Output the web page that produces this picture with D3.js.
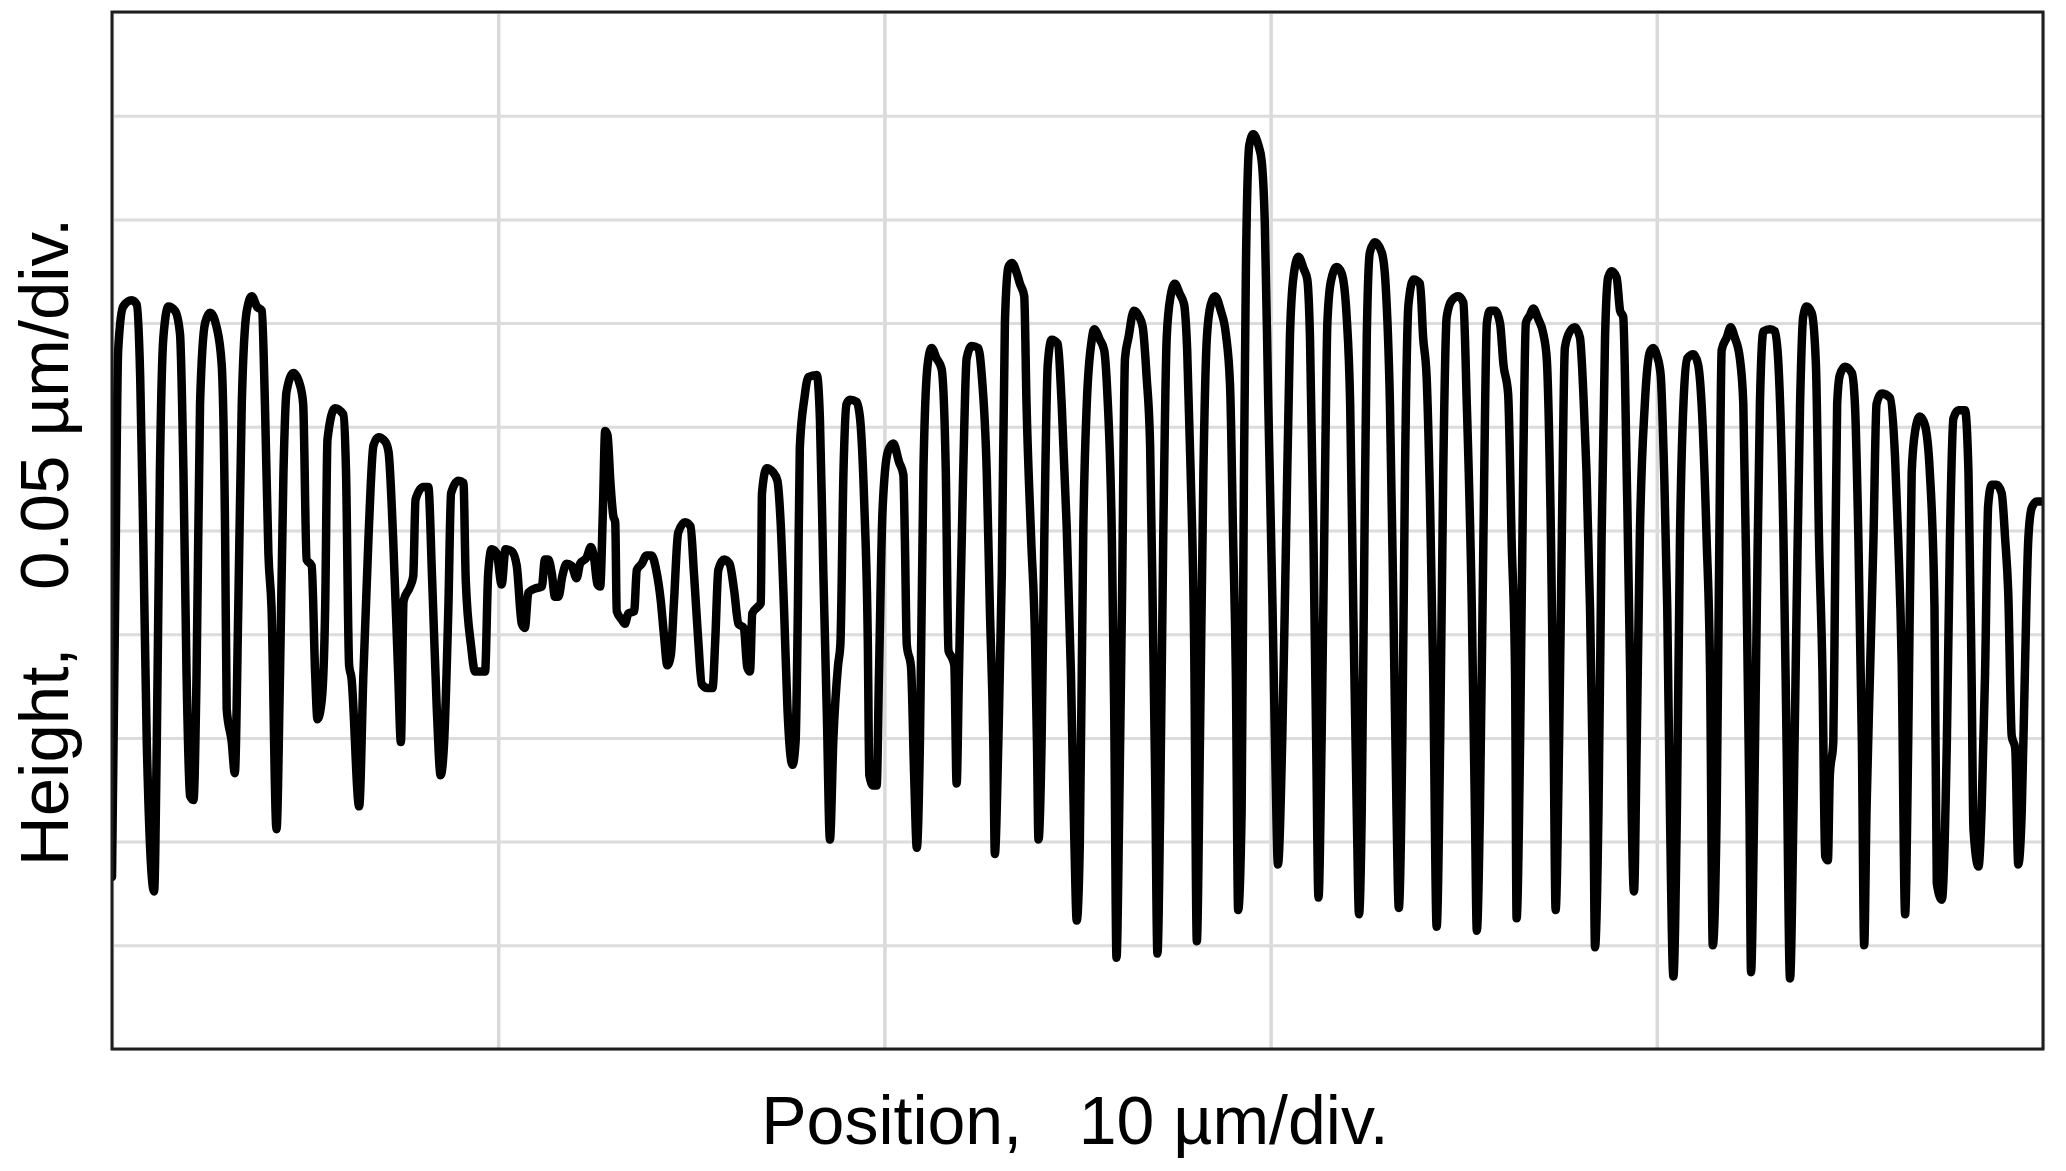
<!DOCTYPE html>
<html>
<head>
<meta charset="utf-8">
<script src="https://cdn.jsdelivr.net/npm/d3@7"></script>
<style>
  html, body { margin: 0; padding: 0; background: #ffffff; }
  svg { display: block; }
  text { font-family: "Liberation Sans", Arial, Helvetica, sans-serif; fill: #000; }
</style>
</head>
<body>
<svg id="chart" width="2066" height="1171"></svg>
<script>
// ---- Data (position in µm, height in nm) ----
const positionUm = [
0.00,0.08,0.16,0.29,0.51,0.64,0.73,0.81,0.90,1.09,1.16,1.24,1.33,1.46,1.63,1.76,1.85,1.93,2.02,2.11,
2.19,2.28,2.41,2.54,2.71,2.84,2.93,2.97,3.10,3.18,3.27,3.36,3.49,3.62,3.75,3.88,3.96,4.05,4.13,4.26,
4.35,4.44,4.52,4.70,4.87,4.95,5.04,5.17,5.26,5.32,5.43,5.52,5.58,5.77,5.99,6.06,6.14,6.20,6.40,6.51,
6.64,6.77,6.90,7.07,7.16,7.28,7.41,7.48,7.55,7.72,7.80,7.86,8.06,8.19,8.29,8.41,8.51,8.60,8.71,8.78,
8.97,9.10,9.16,9.30,9.40,9.66,9.74,9.83,9.96,10.09,10.19,10.35,10.48,10.61,10.69,10.78,10.95,11.13,11.21,11.30,
11.39,11.47,11.56,11.66,11.77,11.90,12.03,12.12,12.29,12.40,12.48,12.57,12.64,12.71,12.77,12.83,12.91,12.98,13.03,13.07,
13.20,13.28,13.37,13.52,13.59,13.72,13.84,13.97,14.09,14.21,14.29,14.38,14.47,14.55,14.66,14.84,14.98,15.07,15.18,15.27,
15.42,15.55,15.62,15.70,15.85,15.99,16.11,16.22,16.36,16.45,16.52,16.58,16.71,16.80,16.83,16.95,17.12,17.23,17.31,17.40,
17.49,17.62,17.70,17.76,17.81,17.93,18.03,18.25,18.33,18.42,18.51,18.59,18.68,18.80,18.86,18.94,19.02,19.11,19.28,19.37,
19.48,19.57,19.61,19.71,19.80,19.86,19.95,20.09,20.23,20.38,20.49,20.53,20.58,20.69,20.77,20.84,20.92,21.01,21.12,21.22,
21.35,21.48,21.59,21.66,21.74,21.81,21.87,21.93,22.04,22.13,22.26,22.43,22.52,22.65,22.73,22.82,22.86,22.95,23.04,23.12,
23.21,23.30,23.43,23.51,23.62,23.68,23.80,23.90,23.95,23.99,24.07,24.14,24.23,24.33,24.49,24.59,24.72,24.83,24.92,24.98,
25.06,25.15,25.24,25.37,25.43,25.58,25.69,25.77,25.89,25.95,26.01,26.08,26.15,26.23,26.32,26.46,26.60,26.69,26.79,26.88,
26.96,27.01,27.07,27.14,27.22,27.31,27.41,27.52,27.65,27.76,27.84,27.93,28.02,28.09,28.17,28.26,28.35,28.45,28.56,28.71,
28.84,28.95,29.03,29.10,29.16,29.25,29.31,29.36,29.45,29.55,29.68,29.77,29.85,29.94,30.05,30.13,30.19,30.30,30.40,30.50,
30.59,30.72,30.86,30.95,31.02,31.11,31.18,31.24,31.32,31.41,31.47,31.56,31.71,31.84,31.97,32.06,32.14,32.23,32.29,32.36,
32.43,32.49,32.57,32.70,32.88,32.98,33.09,33.18,33.26,33.32,33.41,33.48,33.57,33.70,33.87,33.95,34.04,34.13,34.21,34.30,
34.39,34.47,34.56,34.69,34.86,34.99,35.08,35.21,35.29,35.34,35.42,35.51,35.60,35.68,35.81,35.94,36.03,36.15,36.24,36.33,
36.37,36.46,36.54,36.61,36.72,36.80,36.93,37.06,37.15,37.26,37.33,37.38,37.47,37.54,37.62,37.75,37.88,38.01,38.11,38.18,
38.27,38.36,38.40,38.49,38.57,38.66,38.74,38.83,38.96,39.05,39.13,39.22,39.31,39.35,39.41,39.48,39.56,39.69,39.82,39.91,
40.01,40.10,40.19,40.27,40.34,40.43,40.52,40.60,40.69,40.79,40.95,41.07,41.16,41.29,41.38,41.45,41.55,41.62,41.68,41.81,
41.91,42.02,42.15,42.24,42.33,42.40,42.44,42.52,42.59,42.67,42.76,42.93,43.06,43.15,43.28,43.36,43.45,43.54,43.62,43.71,
43.79,43.88,44.01,44.12,44.20,44.29,44.36,44.43,44.48,44.57,44.61,44.67,44.74,44.87,45.05,45.13,45.22,45.31,45.37,45.43,
45.52,45.61,45.69,45.82,46.04,46.17,46.25,46.34,46.43,46.51,46.60,46.69,46.81,46.94,47.07,47.19,47.25,47.38,47.51,47.59,
47.68,47.81,47.98,48.07,48.15,48.20,48.33,48.41,48.50,48.58,48.67,48.80,48.93,49.02,49.10,49.19,49.28,49.36,49.45,49.53,
49.62,49.71,49.84,49.98
];
const heightNm = [
83,213,337,358,361,359,324,246,148,76,148,278,343,358,356,345,278,181,122,120,
181,311,350,355,348,330,246,164,148,133,213,311,356,363,358,356,311,239,213,106,
181,278,317,326,320,311,236,233,181,159,168,213,294,309,306,278,185,179,117,181,
246,291,295,293,288,246,181,148,216,223,228,265,271,271,226,164,132,148,213,268,
274,273,226,194,182,182,229,241,239,224,241,240,233,205,203,220,222,223,236,236,
229,218,218,228,234,233,227,234,237,242,237,224,223,259,298,296,272,257,254,211,
207,205,210,211,231,234,238,238,231,216,200,185,190,215,249,254,252,229,197,176,
174,174,197,231,236,234,221,205,203,184,182,210,213,215,268,280,278,274,255,213,
164,137,148,213,290,314,324,325,304,229,161,101,150,185,195,278,311,313,312,304,
262,197,132,127,127,181,259,288,292,283,277,246,195,184,132,97,148,278,330,338,
333,328,278,192,189,185,128,181,278,333,339,338,325,278,213,148,94,148,229,350,
377,379,374,369,363,311,246,198,148,101,148,246,330,342,340,311,252,181,99,62,
99,250,311,342,347,342,337,317,246,164,44,115,213,333,343,356,353,348,324,291,
197,132,46,115,246,343,363,369,364,359,337,278,197,52,148,278,343,359,363,356,
345,320,246,181,67,115,278,376,436,441,436,428,398,311,213,132,89,148,246,343,
372,382,376,371,343,246,148,73,148,278,350,370,377,374,353,311,213,115,65,115,
246,343,384,389,384,368,311,213,115,68,148,278,359,371,369,343,324,262,181,59,
148,278,353,361,363,360,311,213,115,57,115,246,350,356,356,350,330,316,246,181,
63,148,278,350,354,357,352,345,333,246,148,67,148,246,338,346,348,343,311,278,
213,115,49,115,246,343,372,375,372,356,353,278,181,115,76,148,246,311,336,338,
334,325,278,213,115,35,115,246,311,333,335,330,311,246,181,50,115,246,337,343,
348,343,333,311,213,115,37,115,213,311,346,347,346,330,246,148,34,115,213,311,
353,358,355,330,246,181,93,91,132,148,213,311,325,329,326,311,246,148,50,115,
181,246,311,316,314,285,246,187,65,148,278,298,305,301,278,213,80,72,148,246,
304,308,308,278,181,106,88,115,181,262,272,272,268,246,220,151,145,89,115,181,
246,261,264,264
];
const xGridTicksUm = [0, 10, 20, 30, 40, 50];
const yGridTicksNm = [0, 50, 100, 150, 200, 250, 300, 350, 400, 450, 500];
const xAxisLabel = "Position,\u00A0\u00A0\u00A010 µm/div.";
const yAxisLabel = "Height,\u00A0\u00A0\u00A00.05 µm/div.";

// ---- Layout ----
const W = 2066, H = 1171;
const plot = { left: 112, right: 2043, top: 12, bottom: 1049 };
const pw = plot.right - plot.left, ph = plot.bottom - plot.top;

const svg = d3.select("#chart");
svg.append("rect").attr("width", W).attr("height", H).attr("fill", "#fff");

const x = d3.scaleLinear().domain([0, 50]).range([0, pw]);
const y = d3.scaleLinear().domain([0, 500]).range([ph, 0]);

const g = svg.append("g").attr("transform", `translate(${plot.left},${plot.top})`);

// grid via axes
const gx = g.append("g").attr("transform", `translate(0,${ph})`)
  .call(d3.axisBottom(x).tickValues(xGridTicksUm).tickSize(-ph).tickFormat(""));
gx.select(".domain").remove();
gx.selectAll(".tick line").attr("stroke", "#d9d9d9").attr("stroke-width", 3.5);

const gy = g.append("g")
  .call(d3.axisLeft(y).tickValues(yGridTicksNm).tickSize(-pw).tickFormat(""));
gy.select(".domain").remove();
gy.selectAll(".tick line").attr("stroke", "#dcdcdc").attr("stroke-width", 3);

// clip
svg.append("defs").append("clipPath").attr("id", "clip")
  .append("rect").attr("x", 0).attr("y", 0).attr("width", pw).attr("height", ph);

const data = positionUm.map((p, i) => [p, heightNm[i]]);
const line = d3.line().x(d => x(d[0])).y(d => y(d[1])).curve(d3.curveMonotoneX);

g.append("path")
  .datum(data)
  .attr("clip-path", "url(#clip)")
  .attr("d", line)
  .attr("fill", "none")
  .attr("stroke", "#000")
  .attr("stroke-width", 8.5)
  .attr("stroke-linejoin", "round")
  .attr("stroke-linecap", "round");

// frame
g.append("rect").attr("x", 0).attr("y", 0).attr("width", pw).attr("height", ph)
  .attr("fill", "none").attr("stroke", "#1e1e1e").attr("stroke-width", 3);

// labels
svg.append("text")
  .attr("x", 1075).attr("y", 1144)
  .attr("text-anchor", "middle")
  .attr("font-size", 68)
  .text(xAxisLabel);

svg.append("text")
  .attr("transform", `translate(68,542) rotate(-90)`)
  .attr("text-anchor", "middle")
  .attr("font-size", 69)
  .text(yAxisLabel);
</script>
</body>
</html>
